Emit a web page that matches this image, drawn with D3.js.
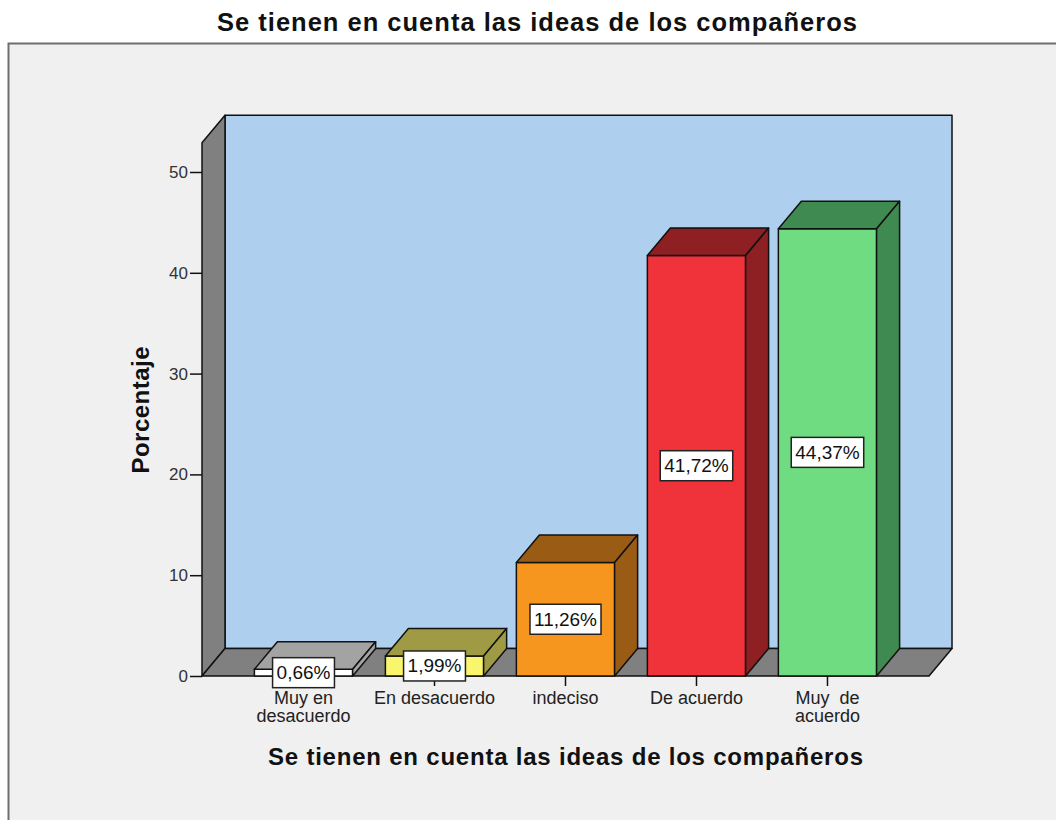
<!DOCTYPE html>
<html>
<head>
<meta charset="utf-8">
<script src="https://cdn.jsdelivr.net/npm/d3@7"></script>
<style>
  html, body { margin: 0; padding: 0; background: #ffffff; }
  svg { display: block; font-family: "Liberation Sans", Arial, sans-serif; }
</style>
</head>
<body>
<svg id="chart" width="1056" height="820"></svg>
<script>
// Survey answers and their shares (%)
const categories = ["Muy en desacuerdo", "En desacuerdo", "indeciso", "De acuerdo", "Muy de acuerdo"];
const categoryLines = [["Muy en", "desacuerdo"], ["En desacuerdo"], ["indeciso"], ["De acuerdo"], ["Muy  de", "acuerdo"]];
const percentages = [0.66, 1.99, 11.26, 41.72, 44.37];
const valueLabels = ["0,66%", "1,99%", "11,26%", "41,72%", "44,37%"];
const frontColors = ["#ffffff", "#f9f56c", "#f7961f", "#f0323a", "#70dc82"];
const shadeColors = ["#a3a3a3", "#9e9b44", "#9a5b14", "#8e1f23", "#3f8a51"];
const yTicks = [0, 10, 20, 30, 40, 50];
const yTop = 52.9;

const title = "Se tienen en cuenta las ideas de los compañeros";
const xTitle = "Se tienen en cuenta las ideas de los compañeros";
const yTitle = "Porcentaje";

const svg = d3.select("#chart");

// 3D depth offset
const dx = 23, dy = -27.5;

const plotLeft = 202, plotRight = 929;
const x = d3.scaleBand().domain(categories).range([plotLeft, plotRight])
  .paddingInner(0.25).paddingOuter(0.4);
const y = d3.scaleLinear().domain([0, 50]).range([676, 172]);

// outer frame
svg.append("rect").attr("x", 8.5).attr("y", 43.5).attr("width", 1100).attr("height", 1000)
  .attr("fill", "#f0f0f0").attr("stroke", "#6e6e6e").attr("stroke-width", 2);

// title
svg.append("text").attr("x", 537).attr("y", 31).attr("text-anchor", "middle")
  .attr("font-weight", "bold").attr("font-size", 25.5).attr("fill", "#111")
  .attr("textLength", 640).attr("lengthAdjust", "spacing").text(title);

const y0 = y(0), yT = y(yTop);
const pts = a => a.map(p => p.join(",")).join(" ");
const stroke = g => g.attr("stroke", "#111").attr("stroke-width", 1.5).attr("stroke-linejoin", "round");

// back wall
svg.append("polygon").attr("points", pts([[plotLeft + dx, yT + dy], [plotRight + dx, yT + dy], [plotRight + dx, y0 + dy], [plotLeft + dx, y0 + dy]]))
  .attr("fill", "#aed0ee").call(stroke);
// left wall
svg.append("polygon").attr("points", pts([[plotLeft, y0], [plotLeft, yT], [plotLeft + dx, yT + dy], [plotLeft + dx, y0 + dy]]))
  .attr("fill", "#808080").call(stroke);
// floor
svg.append("polygon").attr("points", pts([[plotLeft, y0], [plotRight, y0], [plotRight + dx, y0 + dy], [plotLeft + dx, y0 + dy]]))
  .attr("fill", "#808080").call(stroke);

// y axis
const yAxis = svg.append("g").attr("transform", `translate(${plotLeft},0)`)
  .call(d3.axisLeft(y).tickValues(yTicks).tickSize(12).tickPadding(2).tickFormat(d3.format("d")));
yAxis.select(".domain").remove();
yAxis.selectAll(".tick line").attr("stroke", "#111").attr("stroke-width", 1.5);
yAxis.selectAll(".tick text").attr("font-size", 17).attr("fill", "#333")
  .attr("font-family", "Liberation Sans, Arial, sans-serif");

// bars
const bars = svg.append("g");
categories.forEach((c, i) => {
  const x0 = x(c), x1 = x0 + x.bandwidth(), yv = y(percentages[i]);
  const g = bars.append("g");
  g.append("rect").attr("x", x0).attr("y", yv).attr("width", x1 - x0).attr("height", y0 - yv)
    .attr("fill", frontColors[i]).call(stroke);
  g.append("polygon").attr("points", pts([[x0, yv], [x1, yv], [x1 + dx, yv + dy], [x0 + dx, yv + dy]]))
    .attr("fill", shadeColors[i]).call(stroke);
  g.append("polygon").attr("points", pts([[x1, yv], [x1 + dx, yv + dy], [x1 + dx, y0 + dy], [x1, y0]]))
    .attr("fill", shadeColors[i]).call(stroke);
});

// x axis ticks and category labels
const xAxis = svg.append("g");
categories.forEach((c, i) => {
  const cx = x(c) + x.bandwidth() / 2;
  xAxis.append("line").attr("x1", cx).attr("x2", cx).attr("y1", y0).attr("y2", y0 + 10)
    .attr("stroke", "#111").attr("stroke-width", 1.5);
  const t = xAxis.append("text").attr("x", cx).attr("y", 704).attr("text-anchor", "middle")
    .attr("font-size", 18).attr("fill", "#222").style("white-space", "pre");
  categoryLines[i].forEach((line, k) => {
    t.append("tspan").attr("x", cx).attr("dy", k === 0 ? 0 : 18).text(line);
  });
});

// value labels
const labels = svg.append("g");
categories.forEach((c, i) => {
  const cx = x(c) + x.bandwidth() / 2;
  const cy = (y(percentages[i]) + y0) / 2;
  const g = labels.append("g");
  const box = g.append("rect");
  const t = g.append("text").attr("x", cx).attr("y", cy).attr("text-anchor", "middle")
    .attr("dominant-baseline", "central").attr("font-size", 19).attr("fill", "#111").text(valueLabels[i]);
  const w = t.node().getComputedTextLength() + 8;
  box.attr("x", cx - w / 2).attr("y", cy - 15).attr("width", w).attr("height", 30)
    .attr("fill", "#ffffff").attr("stroke", "#222").attr("stroke-width", 1.5);
});

// axis titles
svg.append("text").attr("x", 565.5).attr("y", 765).attr("text-anchor", "middle")
  .attr("font-weight", "bold").attr("font-size", 24).attr("fill", "#111")
  .attr("textLength", 595).attr("lengthAdjust", "spacing").text(xTitle);
svg.append("text").attr("transform", "translate(149,410) rotate(-90)").attr("text-anchor", "middle")
  .attr("font-weight", "bold").attr("font-size", 24).attr("fill", "#111")
  .attr("textLength", 127).attr("lengthAdjust", "spacing").text(yTitle);
</script>
</body>
</html>
